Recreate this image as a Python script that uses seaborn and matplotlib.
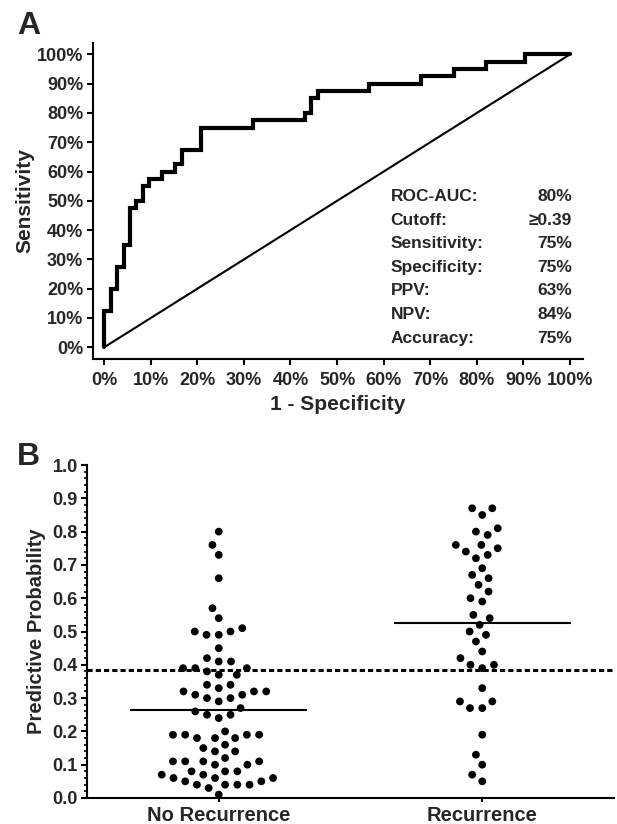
import numpy as np
import pandas as pd
import matplotlib
matplotlib.use("Agg")
import matplotlib.pyplot as plt
from matplotlib.ticker import MultipleLocator, FuncFormatter
import seaborn as sns

# ---------------- data ----------------
roc_fpr = [0, 0, 1.4, 1.4, 2.8, 2.8, 4.2, 4.2, 5.6, 5.6, 6.9, 6.9, 8.3, 8.3,
           9.7, 9.7, 12.5, 12.5, 15.3, 15.3, 16.7, 16.7, 20.8, 20.8, 31.9, 31.9,
           43.1, 43.1, 44.4, 44.4, 45.8, 45.8, 56.9, 56.9, 68.1, 68.1, 75.0, 75.0,
           81.9, 81.9, 90.3, 90.3, 100]
roc_tpr = [0, 12.5, 12.5, 20, 20, 27.5, 27.5, 35, 35, 47.5, 47.5, 50, 50, 55,
           55, 57.5, 57.5, 60, 60, 62.5, 62.5, 67.5, 67.5, 75, 75, 77.5, 77.5,
           80, 80, 85, 85, 87.5, 87.5, 90, 90, 92.5, 92.5, 95, 95, 97.5, 97.5,
           100, 100]
diag = [0, 100]

stat_labels = ["ROC-AUC:", "Cutoff:", "Sensitivity:", "Specificity:", "PPV:", "NPV:", "Accuracy:"]
stat_values = ["80%", "\u22650.39", "75%", "75%", "63%", "84%", "75%"]

groups = ["No Recurrence", "Recurrence"]
no_recurrence = [0.80, 0.76, 0.73, 0.66, 0.57, 0.54, 0.51, 0.50, 0.49, 0.49, 0.50,
                 0.45, 0.42, 0.41, 0.41, 0.39, 0.39, 0.39, 0.38, 0.37, 0.37, 0.34,
                 0.34, 0.33, 0.32, 0.31, 0.30, 0.30, 0.31, 0.32, 0.32, 0.29, 0.26,
                 0.27, 0.25, 0.25, 0.24, 0.19, 0.19, 0.18, 0.18, 0.18, 0.19, 0.19,
                 0.20, 0.16, 0.14, 0.14, 0.15, 0.12, 0.11, 0.11, 0.10, 0.10, 0.11,
                 0.11, 0.08, 0.08, 0.07, 0.06, 0.05, 0.05, 0.06, 0.06, 0.07, 0.08,
                 0.04, 0.04, 0.04, 0.04, 0.03, 0.01]
recurrence = [0.87, 0.87, 0.85, 0.80, 0.81, 0.79, 0.76, 0.75, 0.76, 0.74, 0.72,
              0.73, 0.69, 0.67, 0.66, 0.64, 0.62, 0.60, 0.59, 0.54, 0.55, 0.52,
              0.50, 0.49, 0.47, 0.44, 0.42, 0.40, 0.40, 0.39, 0.33, 0.29, 0.29,
              0.27, 0.27, 0.19, 0.13, 0.10, 0.07, 0.05]
cutoff = 0.385

# ---------------- style ----------------
sns.set_theme(style="ticks")
plt.rcParams["font.family"] = ["Liberation Sans", "DejaVu Sans"]
plt.rcParams["font.weight"] = "bold"
plt.rcParams["axes.linewidth"] = 1.5

fig = plt.figure(figsize=(6.17, 8.24), dpi=100)

# ---------------- Panel A ----------------
axA = fig.add_axes([93 / 617, 1 - 359 / 824, (583 - 93) / 617, (359 - 43) / 824])
sns.lineplot(x=roc_fpr, y=roc_tpr, sort=False, estimator=None, color="black",
             linewidth=3.0, ax=axA, solid_joinstyle="miter")
sns.lineplot(x=diag, y=diag, sort=False, estimator=None, color="black",
             linewidth=1.5, ax=axA)
axA.set_xlim(-2.4, 102.8)
axA.set_ylim(-4.0, 103.9)
axA.set_xticks(np.arange(0, 101, 10))
axA.set_yticks(np.arange(0, 101, 10))
pct = FuncFormatter(lambda v, p: f"{v:.0f}%")
axA.xaxis.set_major_formatter(pct)
axA.yaxis.set_major_formatter(pct)
axA.tick_params(axis="both", direction="out", length=4.5, width=1.5, labelsize=13, color="black")
axA.tick_params(axis="x", pad=5)
axA.tick_params(axis="y", pad=2.5)
for lab in axA.get_xticklabels() + axA.get_yticklabels():
    lab.set_fontweight("bold")
axA.set_xlabel("1 - Specificity", fontsize=15, fontweight="bold", labelpad=4)
axA.set_ylabel("Sensitivity", fontsize=15, fontweight="bold", labelpad=2)
sns.despine(ax=axA)
for s in ["left", "bottom"]:
    axA.spines[s].set_color("black")

row_y = [51.6, 43.4, 35.4, 27.3, 19.3, 11.1, 2.9]
for lab, val, yy in zip(stat_labels, stat_values, row_y):
    axA.text(61.5, yy, lab, fontsize=12.5, fontweight="bold", ha="left", va="center")
    axA.text(100.4, yy, val, fontsize=12.5, fontweight="bold", ha="right", va="center")

fig.text(17 / 617, 1 - 11 / 824, "A", fontsize=23, fontweight="bold", ha="left", va="top")

# ---------------- Panel B ----------------
axB = fig.add_axes([87 / 617, 1 - 798 / 824, (614 - 87) / 617, (798 - 465) / 824])
df = pd.DataFrame({
    "group": [groups[0]] * len(no_recurrence) + [groups[1]] * len(recurrence),
    "prob": no_recurrence + recurrence,
})
sns.swarmplot(data=df, x="group", y="prob", order=groups, color="black",
              size=5.6, linewidth=2.8, edgecolor="none", ax=axB)
for i, vals in enumerate([no_recurrence, recurrence]):
    axB.hlines(np.mean(vals), i - 0.335, i + 0.335, color="black", linewidth=1.5, zorder=1)
axB.axhline(cutoff, color="black", linewidth=2.2, dashes=(1.7, 1.0), zorder=1)

axB.set_xlim(-0.5, 1.5)
axB.set_ylim(0, 1.0)
axB.yaxis.set_major_locator(MultipleLocator(0.1))
axB.yaxis.set_minor_locator(MultipleLocator(0.02))
axB.yaxis.set_major_formatter(FuncFormatter(lambda v, p: f"{v:.1f}"))
axB.tick_params(axis="y", which="major", direction="out", length=4.5, width=1.5, labelsize=13, pad=2, color="black")
axB.tick_params(axis="y", which="minor", direction="out", length=2.5, width=1.2, color="black")
axB.tick_params(axis="x", direction="out", length=3, width=1.5, labelsize=14.5, pad=3, color="black")
for lab in axB.get_xticklabels() + axB.get_yticklabels():
    lab.set_fontweight("bold")
axB.set_xlabel("")
axB.set_ylabel("Predictive Probability", fontsize=14.5, fontweight="bold", labelpad=5)
sns.despine(ax=axB)
for s in ["left", "bottom"]:
    axB.spines[s].set_color("black")

fig.text(17 / 617, 1 - 442 / 824, "B", fontsize=23, fontweight="bold", ha="left", va="top")

fig.savefig("out.png", dpi=100)
